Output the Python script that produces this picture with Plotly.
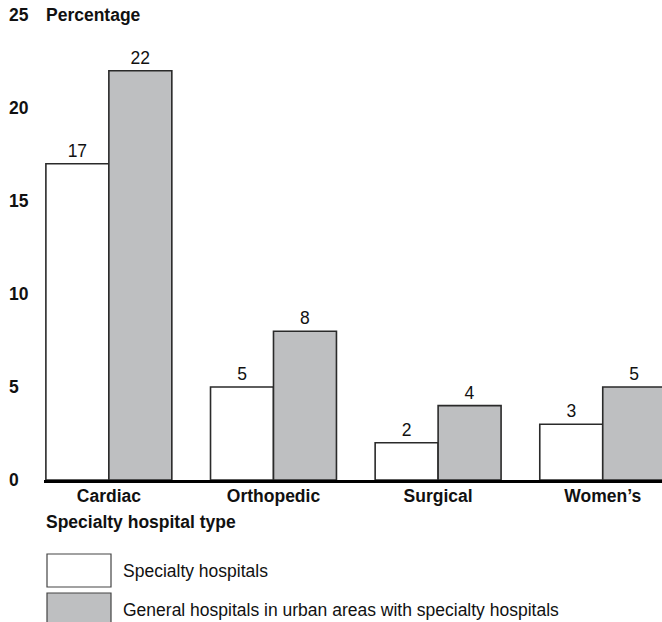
import plotly.graph_objects as go

categories = ["Cardiac", "Orthopedic", "Surgical", "Women’s"]
specialty = [17, 5, 2, 3]
general = [22, 8, 4, 5]
series_names = ["Specialty hospitals", "General hospitals in urban areas with specialty hospitals"]
y_ticks = [0, 5, 10, 15, 20, 25]

FONT = "Liberation Sans, Arial, Helvetica, sans-serif"
GRAY = "#bebfc1"
EDGE = "#2a2a2a"
BOLD_SIZE = 17.5
REG_SIZE = 17.5

W, H = 662, 622
ML, MR, MT, MB = 44, 0, 15, 142
PW = W - ML - MR
PH = H - MT - MB

fig = go.Figure()
fig.add_trace(go.Bar(
    x=list(range(len(categories))), y=specialty, name=series_names[0],
    marker=dict(color="white", line=dict(color=EDGE, width=1.6)),
    text=[str(v) for v in specialty], textposition="outside",
    textfont=dict(family=FONT, size=REG_SIZE, color="#111"), cliponaxis=False,
))
fig.add_trace(go.Bar(
    x=list(range(len(categories))), y=general, name=series_names[1],
    marker=dict(color=GRAY, line=dict(color=EDGE, width=1.6)),
    text=[str(v) for v in general], textposition="outside",
    textfont=dict(family=FONT, size=REG_SIZE, color="#111"), cliponaxis=False,
))

annotations = []
for t in y_ticks:
    annotations.append(dict(
        x=-37 / PW, xref="paper", y=t, yref="y", text="<b>%d</b>" % t,
        showarrow=False, xanchor="left", yanchor="middle",
        font=dict(family=FONT, size=BOLD_SIZE, color="#111"),
    ))
annotations.append(dict(
    x=0, xref="paper", y=25, yref="y", text="<b>Percentage</b>",
    showarrow=False, xanchor="left", yanchor="middle",
    font=dict(family=FONT, size=BOLD_SIZE, color="#111"),
))
annotations.append(dict(
    x=0, xref="paper", y=-42 / PH, yref="paper", text="<b>Specialty hospital type</b>",
    showarrow=False, xanchor="left", yanchor="middle",
    font=dict(family=FONT, size=BOLD_SIZE, color="#111"),
))

shapes = []
box_tops = [554, 593]
fills = ["white", GRAY]
for i, (top, fill) in enumerate(zip(box_tops, fills)):
    y0 = (H - MB - top) / PH
    y1 = (H - MB - (top + 33)) / PH
    shapes.append(dict(
        type="rect", xref="paper", yref="paper",
        x0=3 / PW, x1=67 / PW, y0=y1, y1=y0,
        fillcolor=fill, line=dict(color="#444", width=1.2), layer="above",
    ))
    annotations.append(dict(
        x=77 / PW, xref="paper", y=(y0 + y1) / 2, yref="paper", text=series_names[i],
        showarrow=False, xanchor="left", yanchor="middle",
        font=dict(family=FONT, size=REG_SIZE, color="#111"),
    ))

fig.update_layout(
    width=W, height=H,
    margin=dict(l=ML, r=MR, t=MT, b=MB),
    paper_bgcolor="white", plot_bgcolor="white",
    barmode="group", bargap=0.235, bargroupgap=0,
    showlegend=False,
    xaxis=dict(
        range=[-0.394, 3.36], tickmode="array",
        tickvals=list(range(len(categories))),
        ticktext=["<b>%s</b>" % c for c in categories],
        tickfont=dict(family=FONT, size=BOLD_SIZE, color="#111"),
        showline=True, linecolor="#000", linewidth=3,
        showgrid=False, zeroline=False, ticks="", ticklabelstandoff=-2,
    ),
    yaxis=dict(
        range=[0, 25], showticklabels=False, showgrid=False,
        zeroline=False, showline=False, ticks="",
    ),
    annotations=annotations, shapes=shapes,
)

fig.write_html(
    "out.html",
    config={"displayModeBar": False},
    post_script="document.body.style.margin='0';document.body.style.overflow='hidden';",
)
